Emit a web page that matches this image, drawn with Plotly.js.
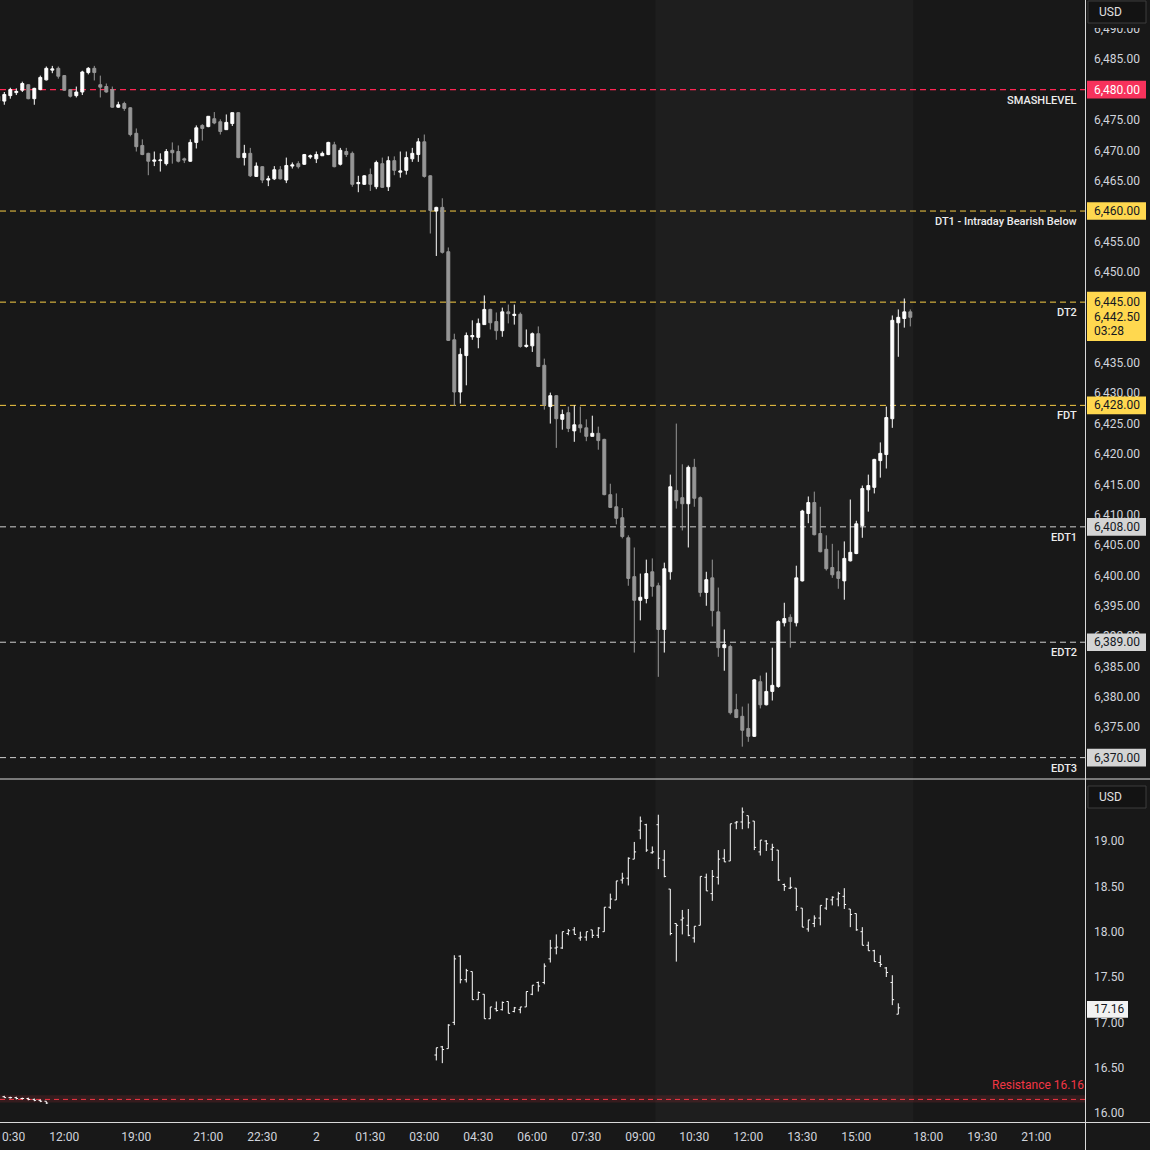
<!DOCTYPE html>
<html>
<head>
<meta charset="utf-8">
<script src="https://cdn.plot.ly/plotly-3.0.1.min.js"></script>
<style>
html,body{margin:0;padding:0;background:#181818;}
#chart{width:1150px;height:1150px;}
</style>
</head>
<body>
<div id="chart"></div>
<script>
// ---------- DATA ----------
// 10-minute bar slots (gaps removed, as on the original chart)
const barIndex = [-1,0,1,2,3,4,5,6,7,8,9,10,11,12,13,14,15,16,17,18,19,20,21,22,23,24,25,26,27,28,29,30,31,32,33,34,35,36,37,38,39,40,41,42,43,44,45,46,47,48,49,50,51,52,53,54,55,56,57,58,59,60,61,62,63,64,65,66,67,68,69,70,71,72,73,74,75,76,77,78,79,80,81,82,83,84,85,86,87,88,89,90,91,92,93,94,95,96,97,98,99,100,101,102,103,104,105,106,107,108,109,110,111,112,113,114,115,116,117,118,119,120,121,122,123,124,125,126,127,128,129,130,131,132,133,134,135,136,137,138,139,140,141,142,143,144,145,146,147,148,149,150,151];
const esOpen = [6478.9,6478.1,6479.0,6479.5,6479.9,6480.8,6478.5,6480.0,6481.6,6483.2,6483.5,6482.3,6480.0,6479.0,6479.6,6482.8,6483.5,6480.8,6480.5,6480.0,6477.1,6477.7,6477.0,6472.8,6470.8,6469.5,6468.2,6468.3,6467.8,6470.0,6469.8,6468.6,6468.2,6471.3,6474.1,6473.9,6475.2,6474.7,6473.4,6474.4,6476.2,6468.8,6469.5,6465.7,6467.3,6465.1,6465.3,6466.8,6465.1,6467.4,6467.8,6467.7,6468.9,6468.6,6469.1,6469.3,6470.9,6467.7,6469.8,6469.5,6464.5,6464.4,6466.0,6464.0,6467.8,6464.0,6468.3,6466.4,6466.7,6468.6,6469.3,6471.4,6465.8,6460.0,6460.6,6453.3,6438.8,6430.2,6436.2,6439.3,6439.2,6441.3,6443.8,6441.8,6440.3,6443.4,6442.8,6443.0,6437.7,6437.8,6439.8,6434.6,6427.8,6429.6,6425.7,6426.8,6423.8,6424.8,6424.3,6422.9,6423.4,6422.4,6413.3,6411.3,6409.5,6406.2,6399.8,6395.9,6396.2,6400.6,6398.3,6391.1,6400.6,6414.0,6412.8,6411.8,6417.8,6412.8,6397.2,6399.6,6394.0,6388.1,6388.3,6377.9,6376.8,6374.8,6373.5,6382.5,6378.7,6380.9,6381.7,6392.2,6393.1,6392.2,6399.1,6410.2,6412.0,6406.9,6404.3,6401.3,6400.6,6399.1,6402.4,6403.6,6408.2,6414.1,6414.5,6418.9,6419.9,6425.8,6441.6,6442.3,6443.4];
const esHigh = [6479.0,6479.6,6480.3,6480.2,6481.3,6480.9,6480.3,6482.3,6483.8,6483.9,6483.8,6482.4,6480.1,6480.5,6483.1,6483.7,6483.9,6482.3,6481.0,6480.5,6478.0,6478.0,6477.1,6473.6,6471.8,6469.6,6469.8,6469.5,6470.2,6471.3,6470.8,6468.8,6471.8,6474.1,6474.3,6475.6,6476.3,6475.1,6475.9,6476.2,6476.3,6470.9,6470.4,6468.0,6467.4,6465.8,6467.4,6467.4,6468.8,6468.0,6468.2,6469.4,6469.3,6469.8,6469.8,6471.4,6471.4,6470.4,6470.4,6469.8,6465.8,6465.9,6467.0,6468.3,6468.8,6469.0,6469.0,6469.8,6469.8,6470.4,6472.0,6472.6,6465.9,6460.7,6462.1,6454.0,6439.8,6437.4,6440.0,6442.0,6442.3,6446.1,6443.9,6443.3,6444.1,6444.6,6444.6,6443.3,6440.5,6440.0,6441.0,6435.7,6430.1,6429.7,6427.3,6427.8,6428.0,6427.8,6425.7,6426.3,6424.5,6422.5,6415.1,6413.5,6411.1,6406.6,6404.6,6400.3,6402.6,6402.8,6398.8,6402.1,6416.6,6425.0,6418.3,6418.1,6419.2,6413.0,6400.6,6402.6,6398.0,6391.1,6388.6,6380.5,6378.4,6378.9,6382.9,6383.5,6384.0,6388.1,6392.6,6395.5,6393.6,6401.6,6410.8,6413.0,6413.8,6411.3,6406.6,6405.2,6404.1,6405.6,6412.5,6409.0,6414.8,6416.6,6419.2,6421.9,6427.8,6442.8,6443.8,6445.6,6443.8];
const esLow = [6478.0,6477.5,6478.5,6479.1,6479.6,6478.4,6477.5,6479.9,6481.5,6482.7,6481.8,6479.8,6478.7,6478.7,6479.1,6482.5,6481.5,6478.7,6479.5,6477.0,6477.0,6476.5,6472.3,6469.8,6469.2,6465.9,6467.4,6466.5,6467.5,6467.8,6468.0,6467.9,6468.1,6470.3,6471.6,6473.8,6474.3,6472.6,6473.4,6474.0,6468.7,6467.5,6465.6,6465.6,6464.6,6464.1,6465.1,6465.2,6464.6,6467.0,6467.0,6467.6,6468.6,6467.9,6469.1,6469.2,6467.2,6467.5,6468.9,6464.0,6463.1,6464.3,6463.3,6463.6,6463.8,6463.3,6465.9,6465.5,6466.0,6468.1,6468.1,6465.5,6456.3,6452.6,6453.0,6438.6,6427.9,6428.3,6431.3,6438.8,6437.4,6441.3,6440.5,6438.8,6439.3,6441.5,6441.3,6437.5,6437.5,6436.8,6434.3,6427.3,6425.0,6421.0,6424.0,6423.6,6422.0,6423.5,6422.1,6422.9,6420.7,6413.2,6411.1,6408.4,6406.1,6398.3,6387.3,6392.6,6395.4,6396.5,6383.3,6387.3,6399.3,6411.0,6407.4,6404.6,6411.3,6396.5,6395.0,6391.6,6386.6,6384.3,6377.1,6376.5,6371.8,6372.6,6373.4,6378.1,6378.6,6379.4,6381.5,6391.6,6388.1,6391.6,6399.0,6408.6,6406.6,6403.8,6400.8,6399.6,6397.8,6396.0,6402.3,6403.5,6406.2,6410.5,6413.5,6416.1,6417.6,6424.3,6436.0,6440.8,6441.0];
const esClose = [6478.1,6479.2,6480.0,6479.7,6481.0,6478.5,6480.2,6482.0,6483.5,6483.4,6482.2,6479.9,6478.9,6479.6,6482.9,6483.5,6482.8,6480.4,6479.6,6477.1,6477.5,6476.9,6472.6,6470.6,6469.3,6468.2,6468.4,6468.4,6469.8,6469.6,6468.2,6468.4,6471.3,6473.7,6473.6,6475.6,6474.5,6473.1,6474.6,6476.2,6468.8,6469.5,6465.8,6467.4,6465.1,6465.3,6466.8,6465.3,6467.5,6467.6,6467.3,6469.3,6469.1,6469.3,6469.5,6471.3,6467.3,6470.0,6469.3,6464.4,6464.7,6465.8,6464.4,6468.0,6463.9,6468.3,6466.7,6466.6,6468.8,6469.5,6471.4,6465.7,6460.1,6460.6,6453.2,6438.7,6430.2,6436.4,6439.5,6439.5,6441.5,6443.8,6441.6,6440.3,6443.4,6443.1,6443.0,6437.7,6437.9,6439.8,6434.4,6428.1,6429.6,6425.8,6426.5,6424.2,6424.8,6424.3,6422.9,6423.4,6422.2,6413.3,6411.2,6409.4,6406.4,6399.5,6395.9,6396.4,6400.3,6398.2,6391.1,6401.1,6414.6,6412.3,6411.8,6417.8,6412.7,6397.2,6399.3,6394.2,6388.1,6388.6,6377.4,6376.6,6374.5,6373.5,6382.8,6378.7,6380.9,6381.9,6392.4,6392.9,6392.4,6399.6,6410.6,6412.0,6406.7,6403.9,6401.1,6400.1,6399.5,6402.8,6403.8,6408.5,6414.3,6414.8,6419.1,6420.1,6426.0,6442.0,6442.5,6443.4,6442.5];

// lower pane (volatility index, OHLC bars)
const vixIndex = [0,1,2,3,4,5,6,7,72,73,74,75,76,77,78,79,80,81,82,83,84,85,86,87,88,89,90,91,92,93,94,95,96,97,98,99,100,101,102,103,104,105,106,107,108,109,110,111,112,113,114,115,116,117,118,119,120,121,122,123,124,125,126,127,128,129,130,131,132,133,134,135,136,137,138,139,140,141,142,143,144,145,146,147,148,149];
const vixOpen  = [16.18,16.17,16.17,16.16,16.16,16.15,16.14,16.13,16.64,16.73,16.71,17.00,17.73,17.47,17.56,17.25,17.31,17.04,17.15,17.14,17.23,17.12,17.14,17.17,17.31,17.44,17.44,17.70,17.82,17.82,17.98,18.02,17.93,17.94,18.02,17.96,18.00,18.27,18.35,18.57,18.59,18.80,19.12,19.18,18.87,19.18,18.79,18.47,18.09,18.13,18.07,17.93,18.07,18.60,18.42,18.60,18.81,18.78,19.20,19.21,19.28,19.22,18.88,19.00,18.91,18.90,18.52,18.48,18.48,18.26,18.03,18.09,18.15,18.26,18.35,18.36,18.39,18.25,18.20,18.00,17.85,17.79,17.66,17.60,17.44,17.09];
const vixHigh  = [16.19,16.18,16.18,16.17,16.17,16.16,16.15,16.13,16.72,16.74,16.98,17.74,17.74,17.59,17.56,17.34,17.31,17.17,17.23,17.23,17.23,17.17,17.17,17.34,17.41,17.45,17.65,17.91,17.97,18.00,18.03,18.05,18.00,18.00,18.02,18.05,18.27,18.42,18.56,18.65,18.82,18.99,19.27,19.19,18.94,19.29,18.90,18.47,18.09,18.24,18.25,18.06,18.61,18.64,18.68,18.90,18.91,19.19,19.22,19.37,19.28,19.22,19.01,19.01,18.97,18.90,18.53,18.60,18.48,18.26,18.13,18.18,18.29,18.37,18.39,18.44,18.48,18.25,18.20,18.05,17.89,17.80,17.74,17.61,17.52,17.21];
const vixLow   = [16.17,16.16,16.15,16.15,16.14,16.13,16.12,16.10,16.58,16.55,16.71,16.97,17.43,17.44,17.25,17.25,17.04,17.04,17.12,17.13,17.10,17.11,17.10,17.17,17.30,17.34,17.42,17.66,17.75,17.81,17.96,17.97,17.90,17.90,17.93,17.93,18.00,18.25,18.35,18.53,18.51,18.80,19.02,18.88,18.86,18.69,18.60,17.96,17.67,17.97,17.95,17.88,18.07,18.45,18.34,18.52,18.77,18.78,19.13,19.13,19.14,18.90,18.84,18.89,18.78,18.56,18.45,18.47,18.23,18.05,18.00,18.05,18.07,18.24,18.29,18.28,18.25,18.05,18.01,17.85,17.79,17.67,17.61,17.50,17.19,17.09];
const vixClose = [16.17,16.17,16.16,16.16,16.15,16.14,16.13,16.11,16.72,16.70,16.97,17.70,17.47,17.57,17.25,17.33,17.04,17.17,17.13,17.22,17.10,17.16,17.17,17.34,17.41,17.40,17.62,17.82,17.83,18.00,18.01,17.97,17.94,18.00,17.96,18.04,18.27,18.36,18.56,18.59,18.81,18.88,19.22,18.90,18.88,18.81,18.61,17.98,18.07,18.15,17.96,18.06,18.61,18.45,18.61,18.80,18.77,19.19,19.21,19.32,19.20,18.93,19.01,18.97,18.93,18.57,18.50,18.49,18.28,18.05,18.13,18.15,18.29,18.36,18.38,18.42,18.30,18.19,18.02,17.85,17.79,17.67,17.64,17.55,17.25,17.16];

// time axis labels (bar slot -> label)
const timeTickSlots  = [1,10,22,34,43,52,61,70,79,88,97,106,115,124,133,142,154,163,172];
const timeTickLabels = ['10:30','12:00','19:00','21:00','22:30','2','01:30','03:00','04:30','06:00','07:30','09:00','10:30','12:00','13:30','15:00','18:00','19:30','21:00'];

// price scale ticks
const priceTicks = [6370,6375,6380,6385,6390,6395,6400,6405,6410,6415,6420,6425,6430,6435,6440,6445,6450,6455,6460,6465,6470,6475,6480,6485,6490];
const vixTicks = [16.0,16.5,17.0,17.5,18.0,18.5,19.0,19.5];

// key levels
const levelNames  = ['SMASHLEVEL','DT1 - Intraday Bearish Below','DT2','FDT','EDT1','EDT2','EDT3'];
const levelValues = [6480,6460,6445,6428,6408,6389,6370];
const levelKinds  = ['smash','dt','dt','dt','edt','edt','edt'];

const lastPrice = 6442.50;
const barCountdown = '03:28';
const lastVix = 17.16;
const resistanceName = 'Resistance';
const resistanceValue = 16.16;
const currencyLabel = 'USD';
// current regular session shading (bar slots)
const sessionStartSlot = 108.5;
const sessionEndSlot = 151.5;

// ---------- STYLE / LAYOUT ----------
const W = 1150, H = 1150, ML = 0, MR = 65, MT = 0, MB = 28;
const plotW = W - ML - MR, plotH = H - MT - MB;
const px2paperX = px => (px - ML) / plotW;
const px2paperY = py => (plotH - (py - MT)) / plotH;
const BG = '#181818';

const kindStyle = {
  smash: {line: '#ff2453', lw: 1.4, box: '#f7325c', text: '#ffffff'},
  dt:    {line: '#f7cc45', lw: 1,   box: '#ffd84f', text: '#131722'},
  edt:   {line: '#cfcfcf', lw: 1,   box: '#d4d4d4', text: '#131722'}
};
const fmtPrice = v => v.toLocaleString('en-US', {minimumFractionDigits: 2, maximumFractionDigits: 2});

const topDomain = [px2paperY(778.5), 1];
const botDomain = [0, px2paperY(780)];

const shapes = [];
const annotations = [];

// session shading
shapes.push({type:'rect', xref:'x', yref:'paper', x0:sessionStartSlot, x1:sessionEndSlot, y0:0, y1:1,
  fillcolor:'rgba(255,255,255,0.028)', line:{width:0}, layer:'below'});

// resistance band + line
shapes.push({type:'rect', xref:'paper', yref:'y2', x0:0, x1:1, y0:resistanceValue-0.045, y1:resistanceValue+0.035,
  fillcolor:'rgba(242,54,69,0.14)', line:{width:0}, layer:'below'});
shapes.push({type:'line', xref:'paper', yref:'y2', x0:0, x1:1, y0:resistanceValue-0.01, y1:resistanceValue-0.01,
  line:{color:'#f23645', width:1, dash:'5px,4px'}, layer:'below'});
annotations.push({xref:'paper', yref:'y2', x:1, y:resistanceValue, xanchor:'right', yanchor:'bottom', yshift:6,
  text:resistanceName + ' ' + resistanceValue.toFixed(2), showarrow:false, borderpad:0,
  font:{family:'Roboto, sans-serif', size:12, color:'#f23645'}});

// level lines, labels and price boxes
const boxX0 = px2paperX(1087), boxX1 = px2paperX(1146), textX = px2paperX(1093);
levelValues.forEach((v, k) => {
  const st = kindStyle[levelKinds[k]];
  shapes.push({type:'line', xref:'paper', yref:'y', x0:0, x1:1, y0:v, y1:v,
    line:{color:st.line, width:st.lw, dash:'6px,4px'}, layer:'below'});
  annotations.push({xref:'paper', yref:'y', x:px2paperX(1078), y:v, xanchor:'right', yanchor:'top', yshift:-3,
    text:levelNames[k], showarrow:false, borderpad:0,
    font:{family:'Roboto, sans-serif', size:11, color:'#ececec', weight:500}});
  if (levelNames[k] !== 'DT2') {
    shapes.push({type:'rect', xref:'paper', yref:'y', x0:boxX0, x1:boxX1, y0:v-1.45, y1:v+1.45,
      fillcolor:st.box, line:{width:0}, layer:'above'});
  }
  annotations.push({xref:'paper', yref:'y', x:textX, y:v, xanchor:'left', yanchor:'middle',
    text:fmtPrice(v), showarrow:false, borderpad:0,
    font:{family:'Roboto, sans-serif', size:12, color:st.text}});
});
// DT2 + last price combined yellow block
shapes.push({type:'rect', xref:'paper', yref:'y', x0:boxX0, x1:boxX1, y0:lastPrice-3.9, y1:levelValues[2]+1.7,
  fillcolor:kindStyle.dt.box, line:{width:0}, layer:'above'});
annotations.push({xref:'paper', yref:'y', x:textX, y:lastPrice, xanchor:'left', yanchor:'middle',
  text:fmtPrice(lastPrice), showarrow:false, borderpad:0,
  font:{family:'Roboto, sans-serif', size:12, color:'#131722'}});
annotations.push({xref:'paper', yref:'y', x:textX, y:lastPrice, xanchor:'left', yanchor:'middle', yshift:-14,
  text:barCountdown, showarrow:false, borderpad:0,
  font:{family:'Roboto, sans-serif', size:12, color:'#131722'}});

// last vix box
shapes.push({type:'rect', xref:'paper', yref:'y2', x0:boxX0, x1:px2paperX(1128), y0:lastVix-0.11, y1:lastVix+0.075,
  fillcolor:'#f2f2f2', line:{width:0}, layer:'above'});
annotations.push({xref:'paper', yref:'y2', x:textX, y:lastVix, xanchor:'left', yanchor:'middle', yshift:-1,
  text:lastVix.toFixed(2), showarrow:false, borderpad:0,
  font:{family:'Roboto, sans-serif', size:12, color:'#131722'}});

// mask under the top currency button (top scale label is cut there)
shapes.push({type:'rect', xref:'paper', yref:'paper', x0:px2paperX(1086), x1:W/plotW,
  y0:px2paperY(28), y1:1, fillcolor:BG, line:{width:0}, layer:'above'});

// currency buttons
[[1, 23], [786, 808]].forEach(([t, b]) => {
  shapes.push({type:'rect', xref:'paper', yref:'paper', x0:px2paperX(1088), x1:px2paperX(1146),
    y0:px2paperY(b), y1:px2paperY(t), fillcolor:'#131313', line:{color:'#3c3c3c', width:1}, layer:'above'});
  annotations.push({xref:'paper', yref:'paper', x:px2paperX(1098), y:px2paperY((t+b)/2), xanchor:'left', yanchor:'middle',
    text:currencyLabel, showarrow:false, borderpad:0,
    font:{family:'Roboto, sans-serif', size:12, color:'#e0e0e0'}});
});

// pane separators and axis border
const sepColor = '#d9d9d9';
shapes.push({type:'line', xref:'paper', yref:'paper', x0:0, x1:W/plotW, y0:px2paperY(779), y1:px2paperY(779),
  line:{color:sepColor, width:1}, layer:'above'});
shapes.push({type:'line', xref:'paper', yref:'paper', x0:0, x1:W/plotW, y0:px2paperY(1122.5), y1:px2paperY(1122.5),
  line:{color:sepColor, width:1}, layer:'above'});
shapes.push({type:'line', xref:'paper', yref:'paper', x0:px2paperX(1085.5), x1:px2paperX(1085.5), y0:px2paperY(1150), y1:1,
  line:{color:sepColor, width:1}, layer:'above'});

const traces = [
  {type:'candlestick', x:barIndex, open:esOpen, high:esHigh, low:esLow, close:esClose,
   xaxis:'x', yaxis:'y', whiskerwidth:0, hoverinfo:'skip',
   increasing:{line:{color:'#ffffff', width:1}, fillcolor:'#ffffff'},
   decreasing:{line:{color:'#969696', width:1}, fillcolor:'#969696'}},
  {type:'ohlc', x:vixIndex, open:vixOpen, high:vixHigh, low:vixLow, close:vixClose,
   xaxis:'x', yaxis:'y2', tickwidth:0.3, hoverinfo:'skip',
   increasing:{line:{color:'#ffffff', width:1}},
   decreasing:{line:{color:'#ffffff', width:1}}}
];

const axisFont = {family:'Roboto, sans-serif', size:12, color:'#d1d4dc'};
// bar slot <-> pixel: slot 0 at x=4.3px, 6px per slot
const slotAtPx = p => (p - 4.3) / 6;

const layout = {
  width:W, height:H,
  paper_bgcolor:BG, plot_bgcolor:BG,
  margin:{l:ML, r:MR, t:MT, b:MB, pad:0},
  showlegend:false,
  boxgap:0.3,
  font:{family:'Roboto, sans-serif', color:'#d1d4dc'},
  xaxis:{anchor:'y2', range:[slotAtPx(0), slotAtPx(plotW)], tickmode:'array', tickvals:timeTickSlots, ticktext:timeTickLabels,
    showgrid:false, zeroline:false, showline:false, ticks:'', tickfont:axisFont, ticklabelstandoff:6,
    ticklabeloverflow:'allow', rangeslider:{visible:false}, automargin:false, fixedrange:true},
  yaxis:{domain:topDomain, range:[6366.56, 6494.75], side:'right', anchor:'x', tickmode:'array',
    tickvals:priceTicks, ticktext:priceTicks.map(fmtPrice), showgrid:false, zeroline:false, showline:false,
    ticks:'', tickfont:axisFont, ticklabelstandoff:8, ticklabeloverflow:'allow', automargin:false, fixedrange:true},
  yaxis2:{domain:botDomain, range:[15.901, 19.673], side:'right', anchor:'x', tickmode:'array',
    tickvals:vixTicks, ticktext:vixTicks.map(v => v.toFixed(2)), showgrid:false, zeroline:false, showline:false,
    ticks:'', tickfont:axisFont, ticklabelstandoff:8, automargin:false, fixedrange:true},
  shapes:shapes,
  annotations:annotations
};

Plotly.newPlot('chart', traces, layout, {displayModeBar:false, staticPlot:true});
</script>
</body>
</html>
